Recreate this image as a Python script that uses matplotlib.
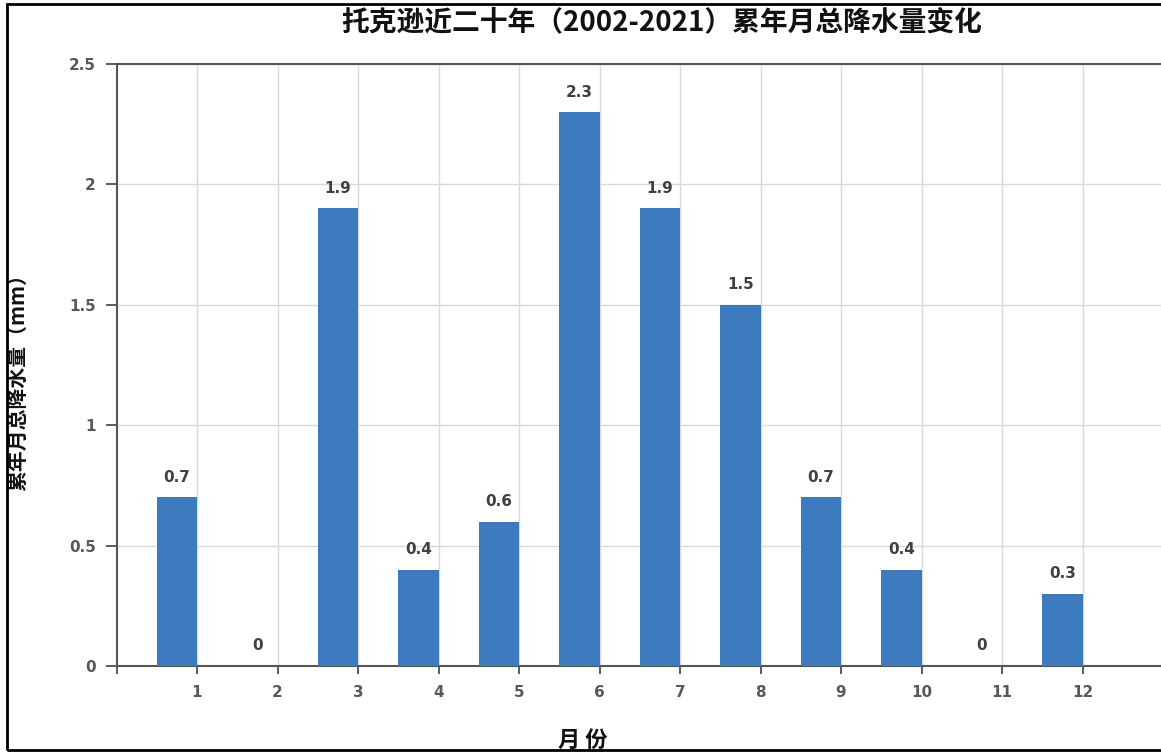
import matplotlib
matplotlib.use("Agg")
import matplotlib.pyplot as plt
from matplotlib.patches import Rectangle

plt.rcParams['font.family'] = ['Noto Sans CJK SC', 'DejaVu Sans']

months = [1, 2, 3, 4, 5, 6, 7, 8, 9, 10, 11, 12]
precip = [0.7, 0, 1.9, 0.4, 0.6, 2.3, 1.9, 1.5, 0.7, 0.4, 0, 0.3]
yticks = [0, 0.5, 1, 1.5, 2, 2.5]
ytick_labels = ['0', '0.5', '1', '1.5', '2', '2.5']
title = '托克逊近二十年（2002-2021）累年月总降水量变化'
xlabel = '月 份'
ylabel = '累年月总降水量（mm）'

W, H = 1161, 752
fig = plt.figure(figsize=(W / 100, H / 100), dpi=100)
x0, y0 = 116.5, 666
unit_x, unit_y = 80.5, 240.8
ax = fig.add_axes([x0 / W, 1 - y0 / H, 13 * unit_x / W, 2.5 * unit_y / H])

bar_color = '#3c7bbd'
bw = 0.5
centers = [m - bw / 2 for m in months]
ax.bar(centers, precip, width=bw, color=bar_color, zorder=3)

for c, v in zip(centers, precip):
    ax.annotate(f'{v:g}', (c, v), xytext=(0, 9), textcoords='offset points',
                ha='center', va='bottom', fontsize=11, fontweight='bold',
                color='#404040', family='DejaVu Sans', zorder=4)

ax.set_xlim(0, 13)
ax.set_ylim(0, 2.5)
ax.set_xticks(list(range(0, 13)))
ax.set_xticklabels([''] + [str(m) for m in months])
ax.set_yticks(yticks)
ax.set_yticklabels(ytick_labels)

for lab in ax.get_xticklabels() + ax.get_yticklabels():
    lab.set_fontweight('bold')
    lab.set_family('DejaVu Sans')
    lab.set_fontsize(11)
    lab.set_color('#595959')

ax.tick_params(axis='x', direction='out', length=6, width=1.2, color='#404040', pad=8)
ax.tick_params(axis='y', direction='out', length=8, width=1.2, color='#404040', pad=7)

ax.grid(True, color='#d9d9d9', linewidth=1.0, zorder=0)
ax.set_axisbelow(True)

for s in ['left', 'bottom', 'top']:
    ax.spines[s].set_color('#555555')
    ax.spines[s].set_linewidth(1.5)
ax.spines['right'].set_visible(False)

fig.text(662 / W, 1 - 22 / H, title, ha='center', va='center',
         fontsize=20, fontweight='bold', color='#111111')
fig.text(583 / W, 1 - 740 / H, xlabel, ha='center', va='center',
         fontsize=16, fontweight='bold', color='#111111')
fig.text(18 / W, 1 - 377 / H, ylabel, ha='center', va='center', rotation=90,
         fontsize=15, fontweight='bold', color='#111111')

frame = Rectangle((7 / W, 1 - 750 / H), 1.2, (750 - 4) / H, transform=fig.transFigure,
                  fill=False, edgecolor='black', linewidth=2, zorder=10)
fig.patches.append(frame)

fig.savefig('out.png', dpi=100)
